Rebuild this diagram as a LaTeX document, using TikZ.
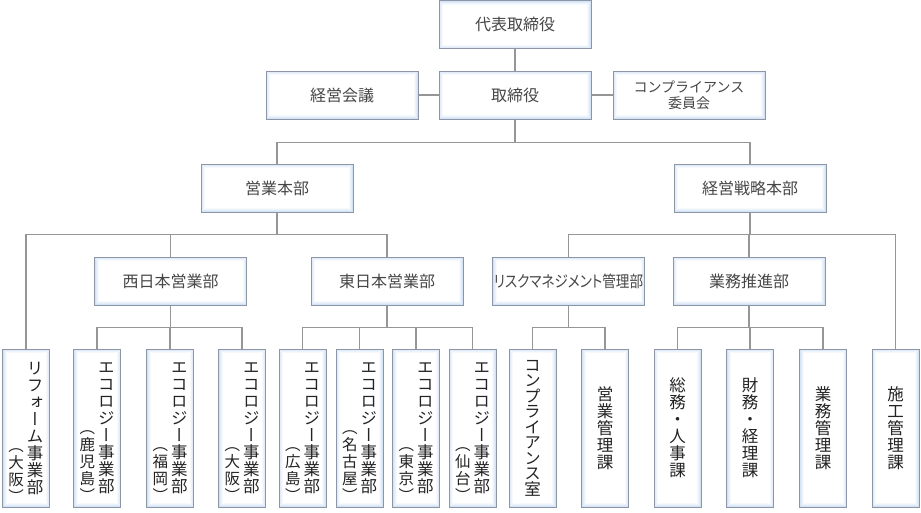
\documentclass[tikz,border=0pt]{standalone}
\usepackage{fontspec}
\setmainfont{Noto Sans CJK JP}
\newfontfamily\jppalt[RawFeature=+palt]{Noto Sans CJK JP}
\newfontfamily\jpvert[RawFeature=+vert]{Noto Sans CJK JP}
\usepackage{graphicx}
\usetikzlibrary{positioning}

\definecolor{boxline}{RGB}{140,150,165}
\definecolor{glow}{RGB}{212,226,246}
\definecolor{wireline}{RGB}{150,150,150}
\definecolor{ink}{RGB}{70,70,70}
\definecolor{vink}{RGB}{35,35,35}

% vertical writing helpers
\newcommand{\vcol}[2][17pt]{{\jpvert\fontsize{16.5}{17}\selectfont
  \vbox{\baselineskip=#1\relax\lineskiplimit=-\maxdimen\let\\\cr
  \halign{\hfil##\hfil\crcr#2\crcr}}}}
\newcommand{\vsub}[1]{\raisebox{-9pt}[0pt][0pt]{\jpvert\fontsize{15.5}{17}\selectfont
  \vbox{\baselineskip=17pt\lineskiplimit=-\maxdimen\let\\\cr
  \halign{\hfil##\hfil\crcr（\\#1\\）\crcr}}}\hspace{3pt}}

\tikzset{box/.style={ % horizontal boxes
            draw=boxline, line width=1pt, fill=glow,
            minimum width=152pt, minimum height=48pt, inner sep=0pt,
            text=ink, font=\fontsize{16}{18}\selectfont,
            path picture={\foreach \k/\p in {1/70,2/42,3/18,4/0}
                \fill[glow!\p!white]
                    ([shift={(\k pt,-\k pt)}]path picture bounding box.north west)
                    rectangle ([shift={(-\k pt,\k pt)}]path picture bounding box.south east);}},
        vbox/.style={ % vertical boxes
            box, minimum width=47pt, minimum height=158pt, text=vink},
        wire/.style={ % connectors
            draw=wireline, line width=1.2pt}
        }

\begin{document}
\begin{tikzpicture}[x=1pt,y=-1pt]
    \useasboundingbox (0,0) rectangle (921,512);

    \node[box] (ceo) at (515,24.5) {代表取締役};
    \node[box] (board) [below=21.5pt of ceo] {取締役};
    \node[box] (mtg) [left=20pt of board] {経営会議};
    \node[box, align=center, font=\fontsize{14}{16}\selectfont] (cmp) [right=21pt of board]
        {コンプライアンス\\委員会};

    \node[box] (sales) at (277,188) {営業本部};
    \node[box] (strat) at (750,188) {経営戦略本部};

    \node[box] (west) at (170.5,281) {西日本営業部};
    \node[box] (east) at (387,281) {東日本営業部};
    \node[box] (risk) at (568.5,281) {\scalebox{0.85}[1]{\jppalt リスクマネジメント管理部}};
    \node[box] (biz) at (749,281) {業務推進部};

    \node[vbox] (v1) at (26,428) {\vsub{大\\阪}\vcol{リ\\フ\\ォ\\ー\\ム\\事\\業\\部}};
    \node[vbox] (v2) at (97,428) {\vsub{鹿\\児\\島}\vcol{エ\\コ\\ロ\\ジ\\ー\\事\\業\\部}};
    \node[vbox] (v3) at (170,428) {\vsub{福\\岡}\vcol{エ\\コ\\ロ\\ジ\\ー\\事\\業\\部}};
    \node[vbox] (v4) at (242,428) {\vsub{大\\阪}\vcol{エ\\コ\\ロ\\ジ\\ー\\事\\業\\部}};
    \node[vbox] (v5) at (302.5,428) {\vsub{広\\島}\vcol{エ\\コ\\ロ\\ジ\\ー\\事\\業\\部}};
    \node[vbox] (v6) at (359.5,428) {\vsub{名\\古\\屋}\vcol{エ\\コ\\ロ\\ジ\\ー\\事\\業\\部}};
    \node[vbox] (v7) at (416,428) {\vsub{東\\京}\vcol{エ\\コ\\ロ\\ジ\\ー\\事\\業\\部}};
    \node[vbox] (v8) at (472.5,428) {\vsub{仙\\台}\vcol{エ\\コ\\ロ\\ジ\\ー\\事\\業\\部}};
    \node[vbox] (v9) at (532.5,428) {\vcol[15.5pt]{コ\\ン\\プ\\ラ\\イ\\ア\\ン\\ス\\室}};
    \node[vbox] (v10) at (605,428) {\vcol{営\\業\\管\\理\\課}};
    \node[vbox] (v11) at (677.5,428) {\vcol{総\\務\\・\\人\\事\\課}};
    \node[vbox] (v12) at (750,428) {\vcol{財\\務\\・\\経\\理\\課}};
    \node[vbox] (v13) at (823,428) {\vcol{業\\務\\管\\理\\課}};
    \node[vbox] (v14) at (895.5,428) {\vcol{施\\工\\管\\理\\課}};

    \draw[wire] (ceo) -- (board);
    \draw[wire] (mtg) -- (board);
    \draw[wire] (board) -- (cmp);
    \draw[wire] (board.south) -- ++(0,23) coordinate (b1) -| (sales.north);
    \draw[wire] (b1) -| (strat.north);

    \draw[wire] (sales.south) -- ++(0,22) coordinate (s1);
    \foreach \c in {v1,west,east}
        \draw[wire] (s1) -| (\c.north);
    \draw[wire] (strat.south) -- ++(0,22) coordinate (k1);
    \foreach \c in {risk,biz,v14}
        \draw[wire] (k1) -| (\c.north);

    \draw[wire] (west.south) -- ++(0,22) coordinate (w1);
    \foreach \c in {v2,v3,v4}
        \draw[wire] (w1) -| (\c.north);
    \draw[wire] (east.south) -- ++(0,22) coordinate (e1);
    \foreach \c in {v5,v6,v7,v8}
        \draw[wire] (e1) -| (\c.north);
    \draw[wire] (risk.south) -- ++(0,22) coordinate (r1);
    \foreach \c in {v9,v10}
        \draw[wire] (r1) -| (\c.north);
    \draw[wire] (biz.south) -- ++(0,22) coordinate (g1);
    \foreach \c in {v11,v12,v13}
        \draw[wire] (g1) -| (\c.north);
\end{tikzpicture}
\end{document}
